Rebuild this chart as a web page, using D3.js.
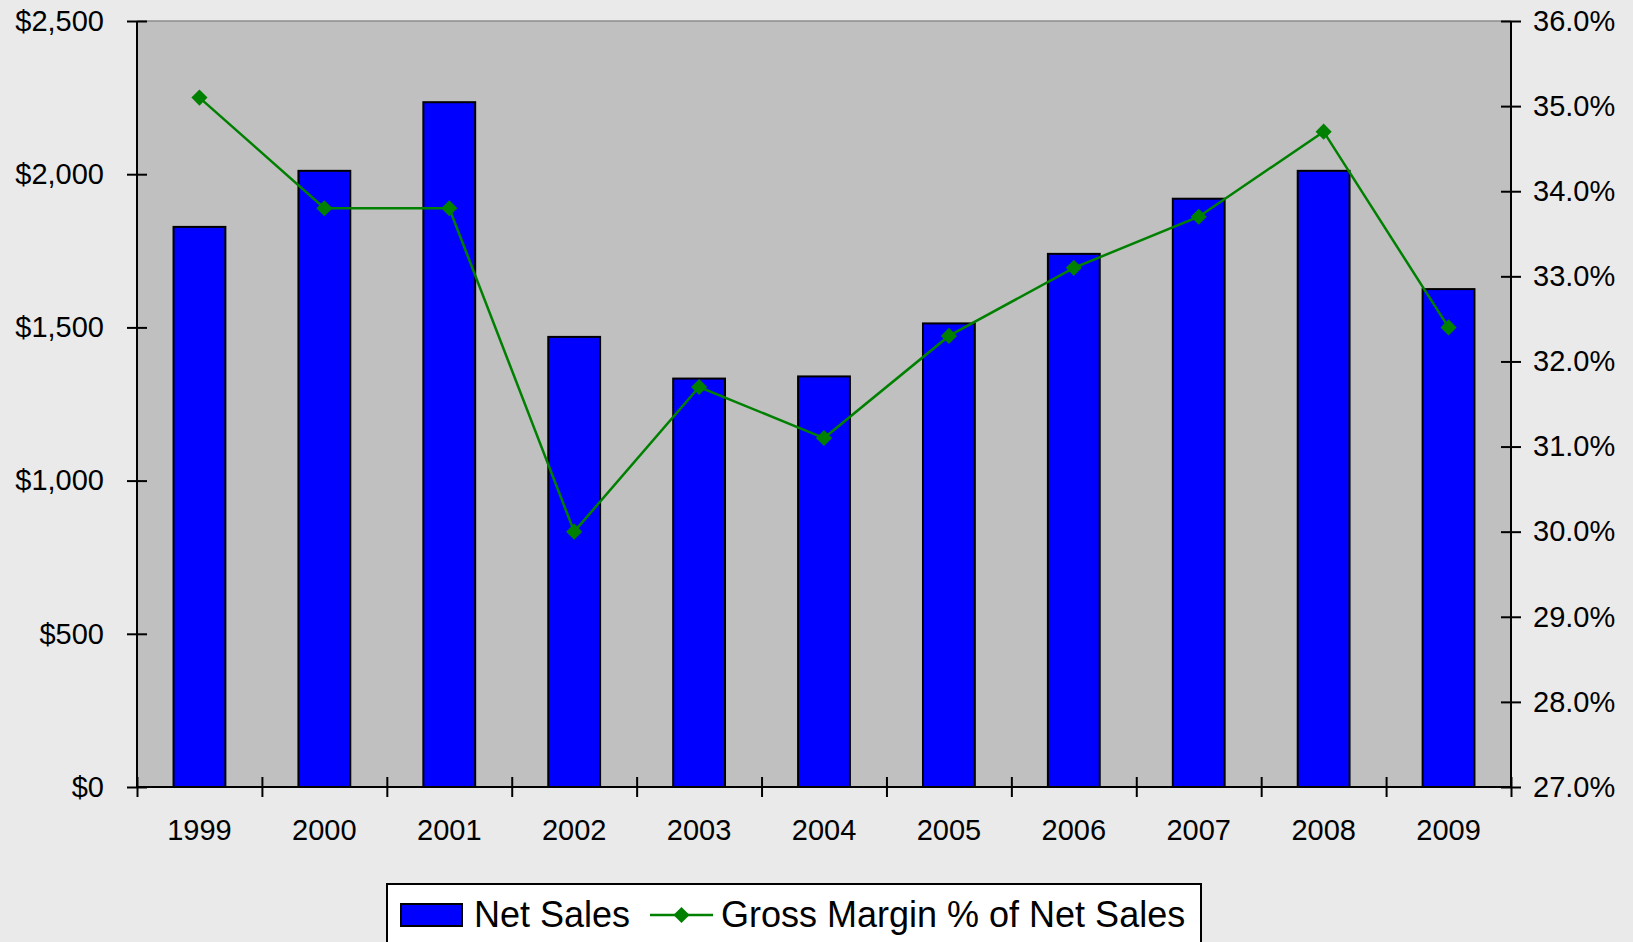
<!DOCTYPE html>
<html>
<head>
<meta charset="utf-8">
<script src="https://cdn.jsdelivr.net/npm/d3@7.9.0/dist/d3.min.js"></script>
<style>
  html, body { margin: 0; padding: 0; background: #eaeaea; overflow: hidden; }
  svg { display: block; font-family: "Liberation Sans", Arial, sans-serif; }
  .domain { display: none; }
</style>
</head>
<body>
<svg id="chart" width="1633" height="942"></svg>
<script>
const years = ['1999', '2000', '2001', '2002', '2003', '2004', '2005', '2006', '2007', '2008', '2009'];
const netSales = [1828, 2011, 2235, 1469, 1333, 1340, 1513, 1740, 1920, 2011, 1625];
const grossMargin = [35.1, 33.8, 33.8, 30.0, 31.7, 31.1, 32.3, 33.1, 33.7, 34.7, 32.4];
const salesTicks = [0, 500, 1000, 1500, 2000, 2500];
const marginTicks = [27, 28, 29, 30, 31, 32, 33, 34, 35, 36];
const legendLabels = ['Net Sales', 'Gross Margin % of Net Sales'];

const svg = d3.select('#chart');
const plotLeft = 137, plotRight = 1511, plotTop = 21, plotBottom = 787;

const x = d3.scaleBand()
  .domain(years)
  .range([plotLeft, plotRight])
  .paddingInner(0.585)
  .paddingOuter(0.2925);
const xEdge = d3.scaleLinear().domain([0, years.length]).range([plotLeft, plotRight]);
const ySales = d3.scaleLinear().domain([0, 2500]).range([plotBottom, plotTop]);
const yMargin = d3.scaleLinear().domain([27, 36]).range([plotBottom, plotTop]);

// plot area
svg.append('rect')
  .attr('x', plotLeft).attr('y', plotTop)
  .attr('width', plotRight - plotLeft).attr('height', plotBottom - plotTop)
  .attr('fill', '#c0c0c0');
svg.append('line')
  .attr('x1', plotLeft).attr('x2', plotRight)
  .attr('y1', plotTop).attr('y2', plotTop)
  .attr('stroke', '#8c8c8c').attr('stroke-width', 1.5);

// bars
svg.append('g')
  .selectAll('rect')
  .data(netSales)
  .join('rect')
  .attr('x', (d, i) => x(years[i]))
  .attr('y', (d) => ySales(d))
  .attr('width', x.bandwidth())
  .attr('height', (d) => ySales(0) - ySales(d))
  .attr('fill', '#0000ff')
  .attr('stroke', '#000')
  .attr('stroke-width', 2);

// margin line
const cx = (i) => x(years[i]) + x.bandwidth() / 2;
const line = d3.line()
  .x((d, i) => cx(i))
  .y((d) => yMargin(d));
svg.append('path')
  .datum(grossMargin)
  .attr('d', line)
  .attr('fill', 'none')
  .attr('stroke', '#008000')
  .attr('stroke-width', 2.5);

const diamond = d3.symbol().type(d3.symbolSquare).size(130);
svg.append('g')
  .selectAll('path')
  .data(grossMargin)
  .join('path')
  .attr('d', diamond)
  .attr('transform', (d, i) => `translate(${cx(i)},${yMargin(d)}) rotate(45)`)
  .attr('fill', '#008000');

// axes
const axisStyle = (g) => {
  g.selectAll('text')
    .attr('font-size', 29)
    .attr('font-family', '"Liberation Sans", Arial, sans-serif')
    .attr('fill', '#000');
  g.selectAll('.tick line').attr('stroke', '#000').attr('stroke-width', 2);
};

const leftAxis = svg.append('g')
  .attr('transform', `translate(${plotLeft},0)`)
  .call(d3.axisLeft(ySales).tickValues(salesTicks)
    .tickFormat(d3.format('$,')).tickSize(10).tickPadding(23))
  .call(axisStyle);
leftAxis.selectAll('.tick line').attr('x1', 10);

const rightAxis = svg.append('g')
  .attr('transform', `translate(${plotRight},0)`)
  .call(d3.axisRight(yMargin).tickValues(marginTicks)
    .tickFormat((d) => d3.format('.1f')(d) + '%').tickSize(10).tickPadding(12))
  .call(axisStyle);
rightAxis.selectAll('.tick line').attr('x1', -10);

svg.append('g')
  .attr('transform', `translate(0,${plotBottom})`)
  .call(d3.axisBottom(x).tickSize(0).tickPadding(32))
  .call(axisStyle);

svg.append('g')
  .attr('transform', `translate(0,${plotBottom})`)
  .call(d3.axisBottom(xEdge).tickValues(d3.range(years.length + 1))
    .tickFormat('').tickSize(10))
  .call(axisStyle)
  .selectAll('.tick line').attr('y1', -10);

// axis lines
svg.append('line')
  .attr('x1', plotLeft).attr('x2', plotLeft).attr('y1', plotTop).attr('y2', plotBottom)
  .attr('stroke', '#000').attr('stroke-width', 2);
svg.append('line')
  .attr('x1', plotRight).attr('x2', plotRight).attr('y1', plotTop).attr('y2', plotBottom)
  .attr('stroke', '#000').attr('stroke-width', 2);
svg.append('line')
  .attr('x1', plotLeft).attr('x2', plotRight).attr('y1', plotBottom).attr('y2', plotBottom)
  .attr('stroke', '#000').attr('stroke-width', 2);

// legend
const legend = svg.append('g');
legend.append('rect')
  .attr('x', 387).attr('y', 884)
  .attr('width', 814).attr('height', 90)
  .attr('fill', '#fff')
  .attr('stroke', '#000').attr('stroke-width', 2);
legend.append('rect')
  .attr('x', 401).attr('y', 904)
  .attr('width', 61).attr('height', 22)
  .attr('fill', '#0000ff')
  .attr('stroke', '#000').attr('stroke-width', 2);
legend.append('text')
  .attr('x', 474).attr('y', 927)
  .attr('font-size', 36)
  .text(legendLabels[0]);
legend.append('line')
  .attr('x1', 650).attr('x2', 713).attr('y1', 915).attr('y2', 915)
  .attr('stroke', '#008000').attr('stroke-width', 2.5);
legend.append('path')
  .attr('d', diamond)
  .attr('transform', 'translate(681.5,915) rotate(45)')
  .attr('fill', '#008000');
legend.append('text')
  .attr('x', 721).attr('y', 927)
  .attr('font-size', 36)
  .text(legendLabels[1]);
</script>
</body>
</html>
